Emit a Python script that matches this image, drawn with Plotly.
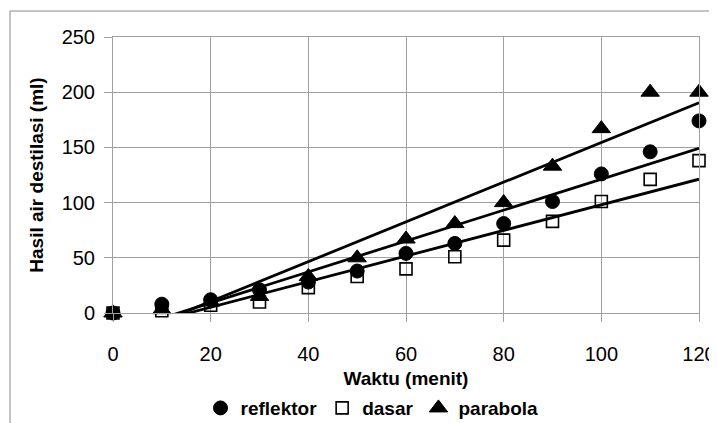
import plotly.graph_objects as go

# ---- data ----
waktu = [0, 10, 20, 30, 40, 50, 60, 70, 80, 90, 100, 110, 120]
reflektor = [0, 8, 12, 21, 28, 38, 54, 63, 81, 101, 126, 146, 174]
dasar = [0, 2, 7, 10, 23, 33, 40, 51, 66, 83, 101, 121, 138]
parabola = [0, 3, 10, 15, 33, 50, 67, 81, 100, 133, 167, 200, 200]

series_names = ["reflektor", "dasar", "parabola"]
# linear trendline coefficients (slope, intercept)
trend_slope = [1.40, 1.16, 1.80]
trend_intercept = [-18.8, -18.0, -25.5]

x_ticks = [0, 20, 40, 60, 80, 100, 120]
y_ticks = [0, 50, 100, 150, 200, 250]

GRID = "#a0a0a0"
FONT = "Liberation Sans"

fig = go.Figure()

series_vals = [reflektor, dasar, parabola]
symbols = ["circle", "square-open", "triangle-up"]
sizes = [14, 12, 16]
line_w = [1, 1.6, 1]

# trendlines first (under markers)
x_trend = [waktu[0], waktu[-1]]
for name, m, b in zip(series_names, trend_slope, trend_intercept):
    fig.add_trace(go.Scatter(
        x=x_trend, y=[m * xv + b for xv in x_trend],
        mode="lines", line=dict(color="black", width=2.8),
        showlegend=False, hoverinfo="skip", name=name + " trend"))

for name, vals, sym, sz, lw in zip(series_names, series_vals, symbols, sizes, line_w):
    fig.add_trace(go.Scatter(
        x=waktu, y=vals, mode="markers", name=name,
        marker=dict(symbol=sym, size=sz, color="black",
                    line=dict(color="black", width=lw)),
        cliponaxis=False))

# the page body adds an 8px offset, so the figure is 8px smaller than the window
fig.update_layout(
    width=709, height=415,
    margin=dict(l=105, r=18, t=29, b=110, autoexpand=False),
    paper_bgcolor="white", plot_bgcolor="white",
    font=dict(family=FONT, color="black", size=20),
    showlegend=True,
    legend=dict(orientation="h", x=0.442, xanchor="center",
                yref="container", y=0.036, yanchor="middle",
                font=dict(family=FONT, size=19, color="black", weight="bold"),
                itemwidth=30, tracegroupgap=0, bgcolor="rgba(0,0,0,0)"),
)

fig.update_xaxes(
    range=[0, 120], tickvals=x_ticks, ticktext=[str(v) for v in x_ticks],
    automargin=False,
    showgrid=True, gridcolor=GRID, gridwidth=1,
    showline=True, linecolor=GRID, linewidth=1, mirror=True,
    ticks="outside", ticklen=8, tickcolor=GRID, zeroline=False,
    ticklabelstandoff=15,
    tickfont=dict(family=FONT, size=20, color="black"),
    title=dict(text="Waktu (menit)", standoff=10,
               font=dict(family=FONT, size=19, color="black", weight="bold")),
)
fig.update_yaxes(
    range=[0, 250], tickvals=y_ticks, ticktext=[str(v) for v in y_ticks],
    automargin=False,
    showgrid=True, gridcolor=GRID, gridwidth=1,
    showline=True, linecolor=GRID, linewidth=1, mirror=True,
    ticks="outside", ticklen=8, tickcolor=GRID, zeroline=False,
    ticklabelstandoff=5,
    tickfont=dict(family=FONT, size=20, color="black"),
    title=dict(text="Hasil air destilasi (ml)", standoff=12,
               font=dict(family=FONT, size=19, color="black", weight="bold")),
)

# chart area border (partially visible, as in the reference)
fig.add_shape(type="rect", xref="paper", yref="paper",
              x0=(10 - 113) / 586, x1=1.5, y0=-1.0, y1=(313 - 11) / 276,
              line=dict(color="#888888", width=1), fillcolor="rgba(0,0,0,0)",
              layer="below")

fig.write_html("out.html")
